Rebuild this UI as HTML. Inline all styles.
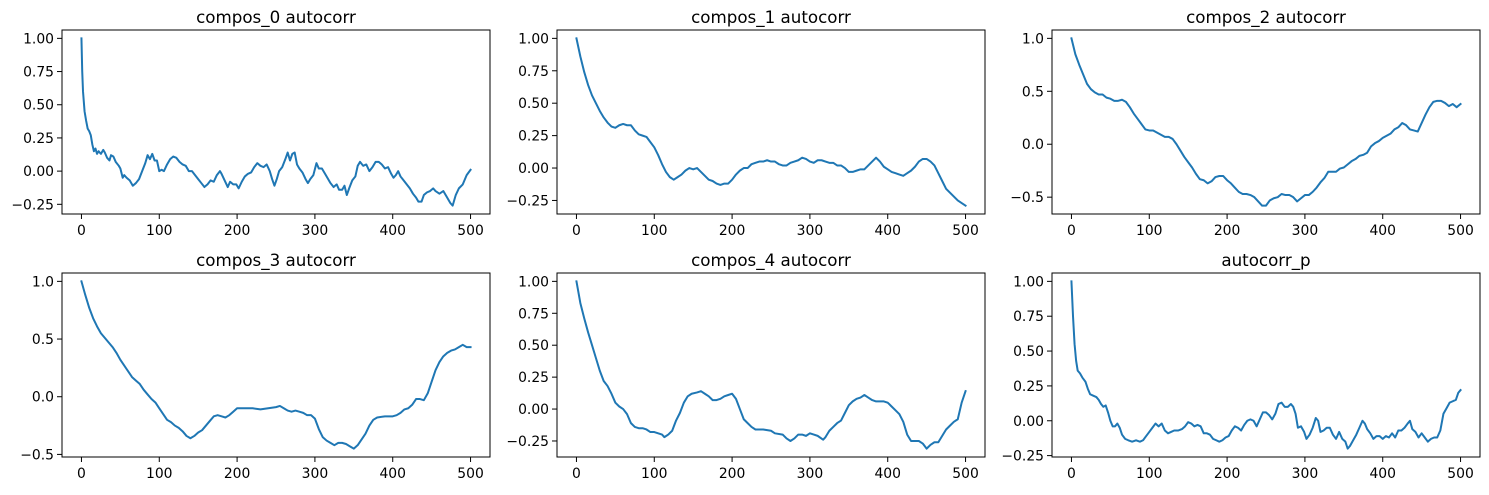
<!DOCTYPE html>
<html><head><meta charset="utf-8"><style>
html,body{margin:0;padding:0;background:#fff;}
svg text{font-family:"DejaVu Sans","Liberation Sans",sans-serif;fill:#000;}
</style></head><body>
<svg id="fig" width="1489" height="490" xmlns="http://www.w3.org/2000/svg"></svg>
<script>
const titles = ["compos_0 autocorr","compos_1 autocorr","compos_2 autocorr","compos_3 autocorr","compos_4 autocorr","autocorr_p"];
const xTicks = [0,100,200,300,400,500];
const yTicksA = [-0.25,0,0.25,0.5,0.75,1.0];
const yTicksB = [-0.5,0,0.5,1.0];
const yTickLabelsA = ["\u22120.25","0.00","0.25","0.50","0.75","1.00"];
const yTickLabelsB = ["\u22120.5","0.0","0.5","1.0"];
const lags0 = [0,1,2,4,6,8,10,12,14,16,18,20,22,25,28,30,33,36,38,41,44,48,50,53,55,58,62,66,70,74,78,82,85,88,91,94,97,100,103,106,110,114,118,122,126,130,134,138,142,146,150,154,158,162,166,170,174,178,180,184,188,191,195,199,202,206,210,214,218,222,226,230,234,238,242,245,248,251,254,258,262,265,268,271,274,277,280,284,288,291,294,298,302,305,309,313,316,320,324,328,331,335,338,341,344,348,352,355,358,362,366,370,374,378,382,386,390,394,398,401,404,407,410,414,418,422,426,430,433,437,440,444,448,452,455,460,465,470,474,477,481,485,490,495,500];
const vals0 = [1.0,0.75,0.6,0.45,0.38,0.32,0.3,0.27,0.2,0.15,0.17,0.13,0.15,0.13,0.16,0.14,0.1,0.08,0.12,0.11,0.07,0.04,0.02,-0.05,-0.03,-0.05,-0.07,-0.11,-0.09,-0.06,0.0,0.06,0.12,0.09,0.13,0.08,0.08,0.0,0.01,0.0,0.05,0.09,0.11,0.1,0.07,0.05,0.04,0.0,0.0,-0.03,-0.06,-0.09,-0.12,-0.1,-0.07,-0.08,-0.03,0.0,-0.02,-0.07,-0.12,-0.08,-0.1,-0.1,-0.13,-0.08,-0.04,-0.02,-0.01,0.03,0.06,0.04,0.03,0.05,0.0,-0.06,-0.11,-0.06,0.0,0.03,0.09,0.14,0.08,0.13,0.14,0.05,0.02,-0.01,-0.06,-0.09,-0.06,-0.03,0.06,0.02,0.02,-0.02,-0.05,-0.09,-0.12,-0.1,-0.14,-0.14,-0.11,-0.18,-0.13,-0.07,-0.04,0.04,0.07,0.04,0.05,0.0,0.03,0.07,0.07,0.05,0.02,0.03,-0.02,-0.05,-0.03,0.0,-0.04,-0.07,-0.1,-0.13,-0.17,-0.2,-0.23,-0.23,-0.18,-0.16,-0.15,-0.13,-0.15,-0.17,-0.15,-0.2,-0.24,-0.26,-0.18,-0.13,-0.1,-0.03,0.01];
const lags1 = [0,5,10,15,20,25,30,35,40,45,50,55,60,65,70,75,80,85,90,95,100,105,110,115,120,125,130,135,140,145,150,155,160,165,170,175,180,185,190,195,200,205,210,215,220,225,230,235,240,245,250,255,260,265,270,275,280,285,290,295,300,305,310,315,320,325,330,335,340,345,350,355,360,365,370,375,380,385,390,395,400,405,410,415,420,425,430,435,440,445,450,455,460,465,470,475,480,485,490,495,500];
const vals1 = [1.0,0.86,0.74,0.64,0.56,0.5,0.44,0.39,0.35,0.32,0.31,0.33,0.34,0.33,0.33,0.29,0.26,0.25,0.24,0.2,0.16,0.1,0.03,-0.03,-0.07,-0.09,-0.07,-0.05,-0.02,0.0,-0.01,0.0,-0.03,-0.06,-0.09,-0.1,-0.12,-0.13,-0.12,-0.12,-0.09,-0.05,-0.02,0.0,0.0,0.03,0.04,0.05,0.05,0.06,0.05,0.05,0.03,0.02,0.02,0.04,0.05,0.06,0.08,0.07,0.05,0.04,0.06,0.06,0.05,0.04,0.04,0.02,0.02,0.0,-0.03,-0.03,-0.02,-0.01,-0.01,0.02,0.05,0.08,0.05,0.01,-0.01,-0.03,-0.04,-0.05,-0.06,-0.04,-0.02,0.01,0.05,0.07,0.07,0.05,0.02,-0.04,-0.1,-0.16,-0.19,-0.22,-0.25,-0.27,-0.29];
const lags2 = lags1;
const vals2 = [1.0,0.85,0.75,0.66,0.57,0.52,0.49,0.47,0.47,0.44,0.43,0.41,0.41,0.42,0.4,0.35,0.29,0.24,0.19,0.14,0.13,0.13,0.11,0.09,0.07,0.07,0.05,0.0,-0.06,-0.12,-0.17,-0.22,-0.28,-0.33,-0.34,-0.37,-0.35,-0.31,-0.3,-0.3,-0.34,-0.37,-0.41,-0.45,-0.47,-0.47,-0.48,-0.5,-0.54,-0.58,-0.58,-0.53,-0.51,-0.5,-0.47,-0.48,-0.48,-0.5,-0.54,-0.51,-0.48,-0.48,-0.45,-0.41,-0.36,-0.32,-0.26,-0.26,-0.26,-0.23,-0.22,-0.19,-0.16,-0.14,-0.11,-0.1,-0.08,-0.02,0.01,0.03,0.06,0.08,0.1,0.14,0.16,0.2,0.18,0.14,0.13,0.12,0.2,0.28,0.35,0.4,0.41,0.41,0.39,0.36,0.38,0.35,0.38];
const lags3 = [0,5,10,15,20,25,30,35,40,45,50,55,60,65,70,75,80,85,90,95,100,105,110,115,120,125,130,135,140,145,150,155,160,165,170,175,180,185,190,195,200,210,220,230,240,250,255,260,265,270,275,280,285,290,295,300,305,310,315,320,325,330,335,340,345,350,355,360,365,370,375,380,390,400,405,410,415,420,425,430,435,440,445,450,455,460,465,470,475,480,485,490,495,500];
const vals3 = [1.0,0.88,0.77,0.68,0.61,0.55,0.51,0.47,0.43,0.38,0.32,0.27,0.22,0.17,0.14,0.11,0.06,0.02,-0.02,-0.05,-0.1,-0.15,-0.2,-0.22,-0.25,-0.27,-0.3,-0.34,-0.36,-0.34,-0.31,-0.29,-0.25,-0.21,-0.17,-0.16,-0.17,-0.18,-0.16,-0.13,-0.1,-0.1,-0.1,-0.11,-0.1,-0.09,-0.08,-0.1,-0.12,-0.13,-0.12,-0.13,-0.14,-0.16,-0.16,-0.19,-0.28,-0.35,-0.38,-0.4,-0.42,-0.4,-0.4,-0.41,-0.43,-0.45,-0.42,-0.37,-0.32,-0.25,-0.2,-0.18,-0.17,-0.17,-0.16,-0.14,-0.11,-0.1,-0.07,-0.02,-0.02,-0.03,0.03,0.13,0.23,0.3,0.35,0.38,0.4,0.41,0.43,0.45,0.43,0.43];
const lags4 = [0,5,10,15,20,25,30,35,40,45,50,55,60,65,70,75,80,85,90,95,100,105,110,113,118,123,128,133,138,143,148,155,160,165,170,175,180,185,190,195,200,205,210,215,220,225,230,240,250,255,265,270,275,280,285,290,295,300,305,310,317,320,325,330,335,340,345,350,355,360,365,370,375,380,385,390,395,400,405,410,415,420,425,430,440,445,450,455,460,465,470,475,480,485,490,495,500];
const vals4 = [1.0,0.83,0.71,0.6,0.5,0.4,0.3,0.22,0.18,0.12,0.05,0.02,0.0,-0.04,-0.11,-0.14,-0.15,-0.15,-0.16,-0.18,-0.18,-0.19,-0.2,-0.22,-0.2,-0.17,-0.09,-0.03,0.05,0.1,0.12,0.13,0.14,0.12,0.1,0.07,0.07,0.08,0.1,0.11,0.12,0.08,0.0,-0.08,-0.11,-0.14,-0.16,-0.16,-0.17,-0.19,-0.2,-0.23,-0.25,-0.23,-0.2,-0.2,-0.21,-0.19,-0.2,-0.21,-0.24,-0.22,-0.17,-0.14,-0.11,-0.09,-0.03,0.03,0.06,0.08,0.09,0.11,0.09,0.07,0.06,0.06,0.06,0.05,0.02,-0.01,-0.04,-0.1,-0.2,-0.25,-0.25,-0.27,-0.31,-0.28,-0.26,-0.26,-0.21,-0.16,-0.13,-0.1,-0.08,0.05,0.14];
const lags5 = [0,2,4,6,8,11,14,18,21,24,28,32,35,38,41,44,47,50,53,56,59,62,65,69,73,78,83,88,92,96,100,104,108,112,116,120,124,128,132,137,142,146,150,154,158,162,166,170,174,178,182,186,190,194,198,202,206,210,214,218,222,226,230,234,238,242,246,250,254,258,262,266,270,274,278,282,285,288,291,295,299,302,306,310,314,317,320,324,328,332,336,340,344,348,352,355,358,362,366,370,374,377,380,384,388,392,396,400,404,408,412,416,420,424,428,432,435,438,442,446,450,454,458,462,466,470,474,478,482,486,490,494,497,500];
const vals5 = [1.0,0.75,0.55,0.43,0.36,0.34,0.31,0.28,0.23,0.19,0.18,0.17,0.15,0.12,0.1,0.11,0.06,0.0,-0.04,-0.04,-0.02,-0.05,-0.1,-0.13,-0.14,-0.15,-0.14,-0.15,-0.14,-0.11,-0.08,-0.05,-0.02,-0.04,-0.02,-0.07,-0.09,-0.08,-0.07,-0.07,-0.06,-0.04,-0.01,-0.02,-0.04,-0.03,-0.04,-0.09,-0.09,-0.1,-0.13,-0.14,-0.15,-0.14,-0.12,-0.11,-0.07,-0.04,-0.05,-0.07,-0.03,0.0,0.01,0.0,-0.04,0.01,0.06,0.06,0.04,0.01,0.05,0.12,0.13,0.1,0.1,0.12,0.1,0.05,-0.05,-0.04,-0.08,-0.13,-0.1,-0.05,0.02,0.0,-0.08,-0.07,-0.05,-0.05,-0.1,-0.13,-0.08,-0.13,-0.15,-0.2,-0.18,-0.14,-0.1,-0.05,0.0,-0.02,-0.06,-0.09,-0.13,-0.11,-0.11,-0.13,-0.11,-0.12,-0.09,-0.12,-0.07,-0.07,-0.05,-0.02,0.0,-0.06,-0.08,-0.12,-0.09,-0.12,-0.15,-0.13,-0.12,-0.12,-0.07,0.05,0.09,0.13,0.14,0.15,0.2,0.22];
const allLags = [lags0,lags1,lags2,lags3,lags4,lags5];
const allVals = [vals0,vals1,vals2,vals3,vals4,vals5];
const useB = [false,false,true,true,false,false];

const NS="http://www.w3.org/2000/svg";
const svg=document.getElementById('fig');
function mk(tag,attrs,parent){const e=document.createElementNS(NS,tag);for(const k in attrs)e.setAttribute(k,attrs[k]);(parent||svg).appendChild(e);return e;}
const colL=[62,557,1052], AW=428, rowT=[30,273], AH=184;
for(let p=0;p<6;p++){
  const L=colL[p%3], T=rowT[Math.floor(p/3)];
  const g=mk('g',{});
  
  
  const lags=allLags[p], vals=allVals[p];
  const xmin=0,xmax=500, xm=(xmax-xmin)*0.05;
  const X=v=>L+(v-(xmin-xm))/((xmax-xmin)+2*xm)*AW;
  let ymin=Math.min(...vals), ymax=Math.max(...vals); const ym=(ymax-ymin)*0.05;
  const Y=v=>T+AH-(v-(ymin-ym))/((ymax-ymin)+2*ym)*AH;
  // line
  let d='';
  for(let i=0;i<lags.length;i++){d+=(i?'L':'M')+X(lags[i]).toFixed(2)+','+Y(vals[i]).toFixed(2);}
  const line=mk('path',{d:d,fill:'none',stroke:'#1f77b4','stroke-width':2,'stroke-linejoin':'round','stroke-linecap':'square'},g);
  
  
  // frame
  const fr=mk('rect',{x:L,y:T,width:AW,height:AH,fill:'none',stroke:'#000','stroke-width':1},g);
  
  
  // x ticks
  xTicks.forEach(t=>{
    const x=X(t);
    mk('line',{x1:x,y1:T+AH,x2:x,y2:T+AH+5,stroke:'#000','stroke-width':1},g);
    const tx=mk('text',{x:x,y:T+AH+21,'text-anchor':'middle','font-size':'13.9px'},g);
    tx.textContent=String(t);
    
    
  });
  const yt=useB[p]?yTicksB:yTicksA, yl=useB[p]?yTickLabelsB:yTickLabelsA;
  yt.forEach((t,i)=>{
    const y=Y(t);
    if(y<T-0.5||y>T+AH+0.5) return;
    mk('line',{x1:L-5,y1:y,x2:L,y2:y,stroke:'#000','stroke-width':1},g);
    const tx=mk('text',{x:L-8,y:y+5,'text-anchor':'end','font-size':'13.9px'},g);
    tx.textContent=yl[i];
    
    
  });
  const ti=mk('text',{x:L+AW/2,y:T-7,'text-anchor':'middle','font-size':'16.7px'},g);
  ti.textContent=titles[p];
  
  
}
</script>
</body></html>
